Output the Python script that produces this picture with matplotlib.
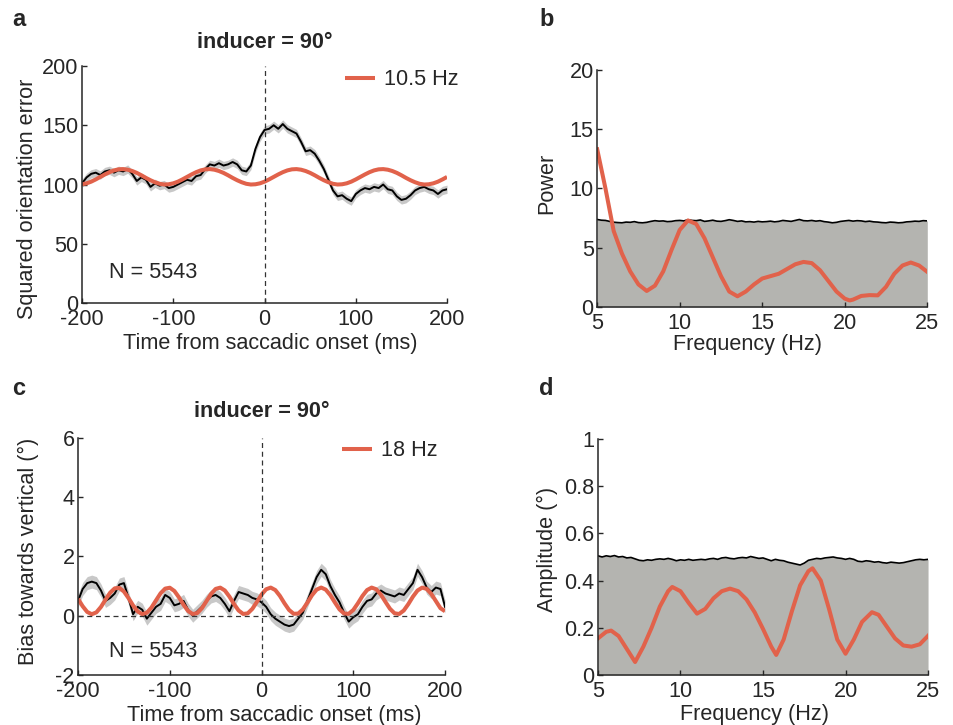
import matplotlib
matplotlib.use('Agg')
import matplotlib.pyplot as plt
import numpy as np

plt.rcParams['font.family'] = ['Liberation Sans', 'DejaVu Sans']
plt.rcParams['text.color'] = '#262626'
plt.rcParams['axes.labelcolor'] = '#262626'
plt.rcParams['xtick.color'] = '#262626'
plt.rcParams['ytick.color'] = '#262626'
plt.rcParams['axes.unicode_minus'] = False  # guion normal como en MATLAB

# tamaño de letra comun
fs = 15.6

# colores
rojo = '#e1624b'
gris_banda = '#c8c8c8'
gris_fondo = '#b4b4b0'

# tiempo (ms) para los paneles a y c
tiempo = np.arange(-200, 201, 5)

# panel a: error de orientacion al cuadrado (media) y ajuste de 10.5 Hz
error_a = [101, 106, 109, 110, 108, 111, 112, 110, 112, 111,
           113, 109, 103, 106, 104, 98, 101, 99, 100, 97,
           98, 100, 102, 104, 103, 107, 108, 113, 117, 116,
           118, 116, 117, 119, 117, 112, 111, 116, 130, 140,
           146, 147, 150, 147, 151, 147, 145, 143, 136, 128,
           129, 126, 120, 113, 104, 95, 90, 91, 88, 86,
           92, 95, 97, 96, 98, 97, 100, 96, 95, 90,
           87, 88, 91, 95, 97, 98, 96, 95, 92, 95, 96]
sem_a = 3.5
ciclo_a = [100.2, 101.0, 102.4, 104.3, 106.4, 108.5, 110.4, 111.9, 112.8, 113.0,
           112.5, 111.4, 109.8, 107.8, 105.6, 103.6, 101.9, 100.6, 100.0]
ajuste_a = (ciclo_a * 5)[:81]

# panel c: sesgo hacia la vertical y ajuste de 18 Hz
sesgo_c = [0.5, 0.9, 1.1, 1.15, 1.1, 0.85, 0.5, 0.6, 0.75, 1.05,
           1.1, 0.6, 0.05, 0.3, 0.2, -0.1, 0.1, 0.3, 0.4, 0.7,
           0.6, 0.35, 0.4, 0.5, 0.2, 0.0, 0.15, 0.3, 0.5, 0.65,
           0.7, 0.6, 0.4, 0.15, 0.5, 0.8, 0.75, 0.7, 0.6, 0.55,
           0.45, 0.3, 0.05, -0.1, -0.2, -0.3, -0.35, -0.3, -0.1, 0.1,
           0.5, 0.9, 1.3, 1.55, 1.4, 1.0, 0.7, 0.45, 0.1, -0.2,
           -0.05, 0.05, 0.3, 0.5, 0.55, 0.75, 0.85, 0.75, 0.7, 0.65,
           0.75, 0.7, 0.9, 1.1, 1.55, 1.3, 0.95, 0.8, 0.95, 0.9, 0.3]
sem_c = 0.22
ajuste_c = [0.570, 0.321, 0.127, 0.050, 0.113, 0.297, 0.544, 0.777, 0.924, 0.939,
            0.816, 0.595, 0.345, 0.143, 0.052, 0.101, 0.274, 0.518, 0.757, 0.915,
            0.944, 0.834, 0.620, 0.369, 0.158, 0.055, 0.090, 0.253, 0.493, 0.735,
            0.905, 0.947, 0.851, 0.644, 0.393, 0.175, 0.059, 0.080, 0.232, 0.468,
            0.713, 0.892, 0.949, 0.866, 0.669, 0.418, 0.194, 0.065, 0.072, 0.212,
            0.442, 0.691, 0.879, 0.950, 0.880, 0.692, 0.444, 0.212, 0.072, 0.064,
            0.193, 0.417, 0.667, 0.865, 0.949, 0.893, 0.714, 0.469, 0.233, 0.080,
            0.059, 0.175, 0.392, 0.644, 0.850, 0.947, 0.905, 0.736, 0.494, 0.253, 0.150]

# umbrales de permutacion (paneles b y d)
frec_umbral = np.arange(5, 25.01, 0.25)
umbral_b = [7.38, 7.32, 7.30, 7.22, 7.15, 7.12, 7.10, 7.16, 7.14, 7.20,
            7.12, 7.10, 7.14, 7.22, 7.28, 7.24, 7.26, 7.20, 7.22, 7.28,
            7.30, 7.26, 7.36, 7.30, 7.28, 7.34, 7.22, 7.26, 7.32, 7.24,
            7.22, 7.28, 7.36, 7.30, 7.22, 7.26, 7.18, 7.20, 7.16, 7.22,
            7.18, 7.20, 7.24, 7.18, 7.22, 7.30, 7.26, 7.22, 7.30, 7.38,
            7.28, 7.26, 7.30, 7.24, 7.28, 7.20, 7.16, 7.10, 7.14, 7.22,
            7.26, 7.30, 7.24, 7.28, 7.26, 7.20, 7.24, 7.18, 7.16, 7.12,
            7.10, 7.16, 7.14, 7.10, 7.12, 7.18, 7.20, 7.24, 7.22, 7.28, 7.26]
umbral_d = [0.505, 0.500, 0.505, 0.502, 0.506, 0.500, 0.502, 0.496, 0.498, 0.492,
            0.486, 0.484, 0.488, 0.486, 0.490, 0.492, 0.490, 0.494, 0.490, 0.484,
            0.488, 0.486, 0.490, 0.486, 0.488, 0.490, 0.488, 0.492, 0.494, 0.490,
            0.496, 0.498, 0.494, 0.492, 0.496, 0.498, 0.496, 0.502, 0.498, 0.494,
            0.496, 0.490, 0.484, 0.490, 0.486, 0.484, 0.478, 0.474, 0.470, 0.466,
            0.474, 0.486, 0.490, 0.494, 0.492, 0.496, 0.498, 0.500, 0.496, 0.494,
            0.490, 0.494, 0.490, 0.482, 0.480, 0.484, 0.482, 0.478, 0.480, 0.476,
            0.474, 0.478, 0.476, 0.474, 0.476, 0.480, 0.484, 0.488, 0.490, 0.488, 0.490]

# espectros (curvas rojas)
frec_b = [5, 5.5, 6, 6.5, 7, 7.5, 8, 8.5, 9, 9.5, 10, 10.5, 11, 11.5, 12, 12.5,
          13, 13.5, 14, 14.5, 15, 15.5, 16, 16.5, 17, 17.5, 18, 18.5, 19, 19.5,
          20, 20.3, 20.5, 21, 21.5, 22, 22.5, 23, 23.5, 24, 24.5, 25]
potencia_b = [13.3, 10.0, 6.4, 4.5, 3.0, 1.9, 1.35, 1.8, 3.0, 4.8, 6.5, 7.3, 7.0, 5.8, 4.2, 2.6,
              1.3, 0.9, 1.3, 1.9, 2.4, 2.6, 2.8, 3.2, 3.6, 3.8, 3.7, 3.1, 2.2, 1.3,
              0.7, 0.55, 0.62, 0.93, 1.0, 0.98, 1.7, 2.8, 3.5, 3.75, 3.5, 2.96]
frec_d = [5, 5.5, 5.8, 6.25, 6.75, 7.25, 7.75, 8.25, 8.75, 9.25, 9.5, 10, 10.5, 11,
          11.5, 12, 12.5, 13, 13.5, 14, 14.5, 15, 15.5, 15.8, 16.25, 16.75, 17.25,
          17.75, 18, 18.5, 19, 19.5, 20, 20.5, 21, 21.6, 22, 22.5, 23, 23.5, 24, 24.5, 25]
amplitud_d = [0.155, 0.183, 0.188, 0.165, 0.11, 0.055, 0.12, 0.2, 0.29, 0.355, 0.373, 0.355,
              0.305, 0.26, 0.28, 0.325, 0.355, 0.366, 0.355, 0.32, 0.265, 0.195, 0.12,
              0.085, 0.15, 0.27, 0.38, 0.44, 0.452, 0.40, 0.28, 0.15, 0.09, 0.15, 0.225,
              0.266, 0.255, 0.205, 0.155, 0.125, 0.12, 0.13, 0.166]


def estilo(ax):
    # ejes estilo MATLAB: solo izquierda y abajo, ticks hacia dentro
    for lado in ['top', 'right']:
        ax.spines[lado].set_visible(False)
    for lado in ['left', 'bottom']:
        ax.spines[lado].set_color('#262626')
        ax.spines[lado].set_linewidth(1.1)
    ax.tick_params(direction='in', length=3.6, width=1.0, labelsize=fs)
    ax.tick_params(axis='x', pad=4)
    ax.tick_params(axis='y', pad=2.5)


fig = plt.figure(figsize=(9.54, 7.25), dpi=100)

ax_a = fig.add_axes([0.086, 0.582, 0.3826, 0.327])
ax_b = fig.add_axes([0.626, 0.5766, 0.346, 0.327])
ax_c = fig.add_axes([0.0818, 0.069, 0.3847, 0.327])
ax_d = fig.add_axes([0.6268, 0.069, 0.346, 0.3255])

# ---- panel a
ax_a.fill_between(tiempo, np.array(error_a) - sem_a, np.array(error_a) + sem_a,
                  color=gris_banda, lw=0)
ax_a.plot(tiempo, error_a, color='black', lw=1.4)
ax_a.plot(tiempo, ajuste_a, color=rojo, lw=2.9, label='10.5 Hz', solid_capstyle='butt')
ax_a.axvline(0, color='#333333', lw=0.9, ls=(0, (4, 3)))
ax_a.set_xlim(-200, 200)
ax_a.set_ylim(0, 200)
ax_a.set_xticks([-200, -100, 0, 100, 200])
ax_a.set_yticks([0, 50, 100, 150, 200])
ax_a.set_title('inducer = 90°', fontsize=fs, fontweight='bold', pad=13)
ax_a.set_ylabel('Squared orientation error', fontsize=fs)
ax_a.set_xlabel('Time from saccadic onset (ms)', fontsize=fs)
ax_a.yaxis.set_label_coords(-0.12, 0.44)
ax_a.xaxis.set_label_coords(0.515, -0.127)
ax_a.text(0.074, 0.127, 'N = 5543', transform=ax_a.transAxes, fontsize=fs, va='center')
ax_a.legend(loc='center left', bbox_to_anchor=(0.72, 0.941), frameon=False,
            fontsize=fs, handlelength=1.37, handletextpad=0.45,
            borderpad=0, borderaxespad=0)
estilo(ax_a)

# ---- panel b
ax_b.fill_between(frec_umbral, 0, umbral_b, color=gris_fondo, lw=0)
ax_b.plot(frec_umbral, umbral_b, color='black', lw=1.2)
ax_b.plot(frec_b, potencia_b, color=rojo, lw=2.9)
ax_b.set_xlim(5, 25)
ax_b.set_ylim(0, 20)
ax_b.set_xticks([5, 10, 15, 20, 25])
ax_b.set_yticks([0, 5, 10, 15, 20])
ax_b.set_ylabel('Power', fontsize=fs)
ax_b.set_xlabel('Frequency (Hz)', fontsize=fs)
ax_b.yaxis.set_label_coords(-0.12, 0.52)
ax_b.xaxis.set_label_coords(0.455, -0.114)
estilo(ax_b)

# ---- panel c
ax_c.fill_between(tiempo, np.array(sesgo_c) - sem_c, np.array(sesgo_c) + sem_c,
                  color=gris_banda, lw=0)
ax_c.plot(tiempo, sesgo_c, color='black', lw=1.4)
ax_c.plot(tiempo, ajuste_c, color=rojo, lw=2.9, label='18 Hz', solid_capstyle='butt')
ax_c.axvline(0, color='#333333', lw=0.9, ls=(0, (4, 3)))
ax_c.axhline(0, color='#333333', lw=0.9, ls=(0, (4, 3)))
ax_c.set_xlim(-200, 200)
ax_c.set_ylim(-2, 6)
ax_c.set_xticks([-200, -100, 0, 100, 200])
ax_c.set_yticks([-2, 0, 2, 4, 6])
ax_c.set_title('inducer = 90°', fontsize=fs, fontweight='bold', pad=15)
ax_c.set_ylabel('Bias towards vertical (°)', fontsize=fs)
ax_c.set_xlabel('Time from saccadic onset (ms)', fontsize=fs)
ax_c.yaxis.set_label_coords(-0.106, 0.52)
ax_c.xaxis.set_label_coords(0.534, -0.127)
ax_c.text(0.084, 0.10, 'N = 5543', transform=ax_c.transAxes, fontsize=fs, va='center')
ax_c.legend(loc='center left', bbox_to_anchor=(0.719, 0.945), frameon=False,
            fontsize=fs, handlelength=1.37, handletextpad=0.45,
            borderpad=0, borderaxespad=0)
estilo(ax_c)

# ---- panel d
ax_d.fill_between(frec_umbral, 0, umbral_d, color=gris_fondo, lw=0)
ax_d.plot(frec_umbral, umbral_d, color='black', lw=1.2)
ax_d.plot(frec_d, amplitud_d, color=rojo, lw=2.9)
ax_d.set_xlim(5, 25)
ax_d.set_ylim(0, 1)
ax_d.set_xticks([5, 10, 15, 20, 25])
ax_d.set_yticks([0, 0.2, 0.4, 0.6, 0.8, 1])
ax_d.set_yticklabels(['0', '0.2', '0.4', '0.6', '0.8', '1'])
ax_d.set_ylabel('Amplitude (°)', fontsize=fs)
ax_d.set_xlabel('Frequency (Hz)', fontsize=fs)
ax_d.yaxis.set_label_coords(-0.12, 0.534)
ax_d.xaxis.set_label_coords(0.473, -0.123)
estilo(ax_d)

# letras de los paneles
for letra, x, y in [('a', 12, 26), ('b', 539, 26), ('c', 12, 395), ('d', 539, 395)]:
    fig.text(x / 954, 1 - y / 725, letra, fontsize=17, fontweight='bold', va='baseline')

fig.savefig('out.png', dpi=100)
